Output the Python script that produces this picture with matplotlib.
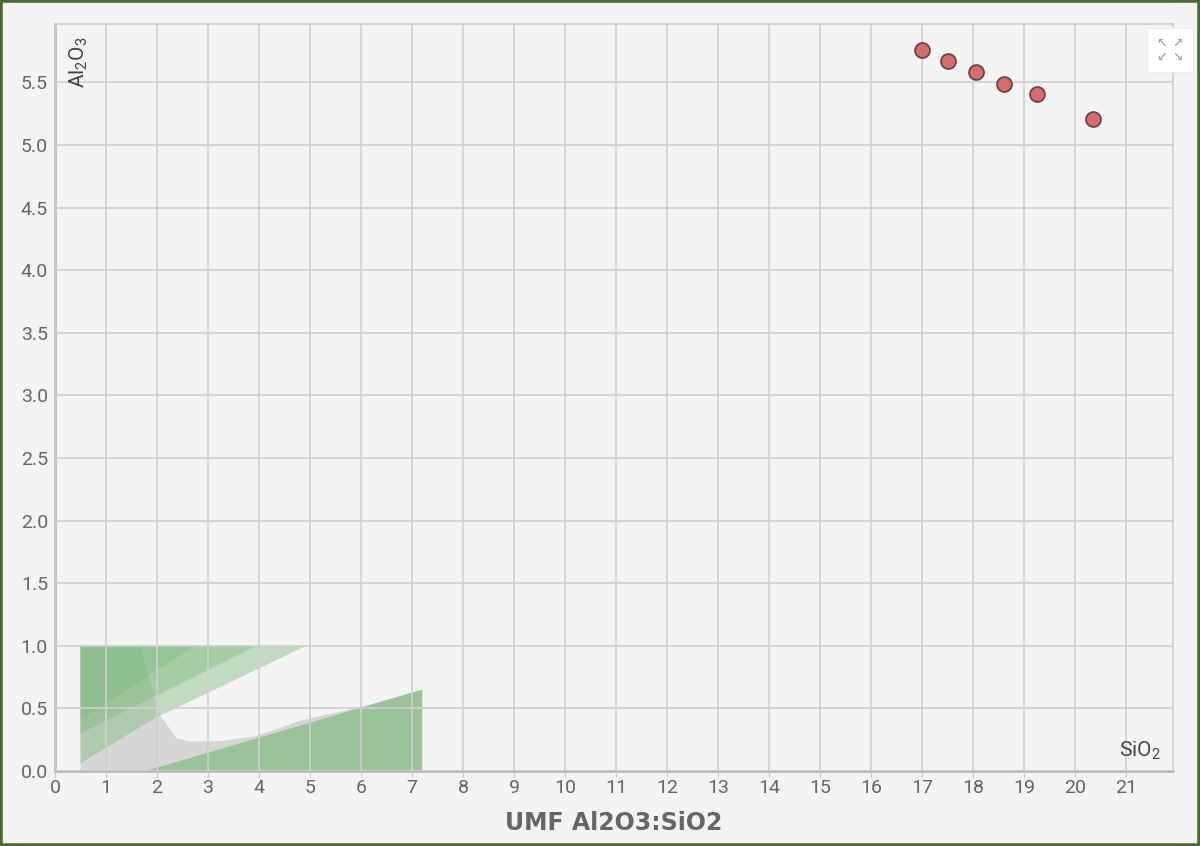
import numpy as np
import matplotlib.pyplot as plt
from matplotlib.patches import Polygon, Rectangle

# glaze points, UMF SiO2 (x) vs Al2O3 (y)
sio2 = [17.0, 17.5, 18.05, 18.6, 19.25, 20.35]
al2o3 = [5.76, 5.67, 5.58, 5.49, 5.41, 5.21]

# stull chart regions, (SiO2, Al2O3) vertices
underfired = [(0.5, 0.0), (0.5, 1.0), (1.67, 1.0), (2.05, 0.45), (2.39, 0.26),
              (2.65, 0.235), (3.3, 0.24), (3.95, 0.28), (4.8, 0.40), (5.2, 0.44),
              (6.0, 0.51), (7.2, 0.65), (7.2, 0.0)]
semi_matte = [(0.5, 0.06), (1.34, 0.27), (2.0, 0.43), (4.93, 1.0), (0.5, 1.0)]
matte = [(0.5, 0.30), (3.95, 1.0), (0.5, 1.0)]
matte_2 = [(0.5, 0.41), (2.75, 1.0), (0.5, 1.0)]
crazed = [(1.78, 0.0), (7.2, 0.65), (7.2, 0.0)]

x_ticks = np.arange(0, 22, 1)
y_ticks = np.arange(0, 6.0, 0.5)

W, H = 1200, 846
bg = '#f4f4f4'
grid_col = '#cfcfcf'
txt_col = '#666666'

plt.rcParams['font.family'] = ['Roboto', 'DejaVu Sans']

fig = plt.figure(figsize=(W / 100, H / 100), dpi=100, facecolor=bg)
# axes placed in pixel terms
l, r, t, b = 55, 1173, 24, 771
ax = fig.add_axes([l / W, 1 - b / H, (r - l) / W, (b - t) / H])
ax.set_facecolor(bg)

ax.add_patch(Polygon(underfired, closed=True, facecolor='#d6d6d6', edgecolor='none', zorder=1))
for reg in [semi_matte, matte, matte_2]:
    ax.add_patch(Polygon(reg, closed=True, facecolor='#7fbc7f', alpha=0.43,
                         edgecolor='none', zorder=1.5))
ax.add_patch(Polygon(crazed, closed=True, facecolor='#9ac39a', edgecolor='none', zorder=1.6))

ax.scatter(sio2, al2o3, s=115, c='#d66c6c', edgecolors='#6b4545', linewidths=1.3, zorder=5)

ax.set_xlim(0, (r - l) / 51.0)
ax.set_ylim(0, (b - t) / 125.2)
ax.set_xticks(x_ticks)
ax.set_yticks(y_ticks)
ax.set_yticklabels(['%.1f' % v for v in y_ticks])
ax.set_axisbelow(False)
ax.grid(True, color=grid_col, lw=1.2, zorder=2)
ax.tick_params(axis='x', length=4, color='#c8c8c8', labelsize=14, labelcolor=txt_col, pad=2)
ax.tick_params(axis='y', length=0, labelsize=14, labelcolor=txt_col, pad=5)

for s in ['top', 'right']:
    ax.spines[s].set_color(grid_col)
    ax.spines[s].set_linewidth(1.2)
for s in ['left', 'bottom']:
    ax.spines[s].set_color('#b4b4b4')
    ax.spines[s].set_linewidth(1.8)

ax.set_xlabel('UMF Al2O3:SiO2', fontsize=17, fontweight='bold', color=txt_col,
              family=['Liberation Sans Narrow', 'DejaVu Sans'], labelpad=10)

fig.text(79 / W, 1 - 62 / H, r'$\mathregular{Al_2O_3}$', rotation=90, fontsize=15,
         color='#444444', ha='center', va='center')
fig.text(1140 / W, 1 - 751 / H, r'$\mathregular{SiO_2}$', fontsize=15,
         color='#444444', ha='center', va='center')

# expand icon
fig.patches.append(Rectangle((1147 / W, 1 - 72 / H), 46 / W, 44 / H, transform=fig.transFigure,
                             facecolor='white', edgecolor='#eeeeee', lw=0.8, zorder=10))
for dx, dy, ch in [(-8, -7, '\u2196'), (8, -7, '\u2197'), (-8, 7, '\u2199'), (8, 7, '\u2198')]:
    fig.text((1170 + dx) / W, 1 - (50 + dy) / H, ch, fontsize=9, fontweight='bold',
             color='#aaaaaa', ha='center', va='center', family='DejaVu Sans', zorder=11)

# outer frame
fig.patches.append(Rectangle((0, 0), 1, 1, transform=fig.transFigure, fill=False,
                             edgecolor='#4b6b35', lw=4, zorder=20))

fig.savefig('out.png', dpi=100, facecolor=bg)
